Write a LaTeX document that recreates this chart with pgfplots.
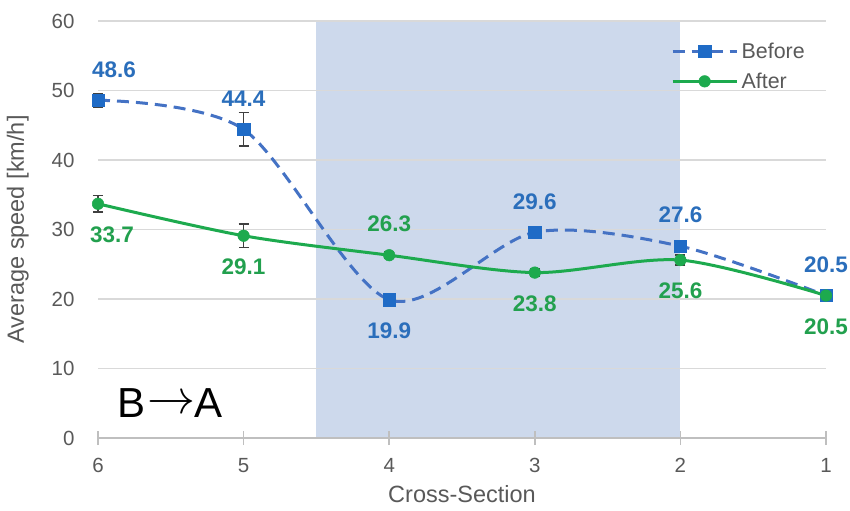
\documentclass[border=0pt]{standalone}
\usepackage{fontspec}
\setmainfont{Liberation Sans}
\usepackage{pgfplots}
\pgfplotsset{compat=1.18}
\usepackage{pgfplotstable}
\definecolor{bluemk}{HTML}{1F6BC6}
\definecolor{blueln}{HTML}{4472C4}
\definecolor{bluetx}{HTML}{2A6EBB}
\definecolor{greenln}{HTML}{1DAA4E}
\definecolor{greentx}{HTML}{22A04E}
\definecolor{bandblue}{HTML}{CDD9EC}
\definecolor{gridc}{HTML}{D9D9D9}
\definecolor{axc}{HTML}{BFBFBF}
\definecolor{txt}{HTML}{595959}
\definecolor{errc}{HTML}{404040}

\pgfplotstableread{
x y e
0 48.6 1.0
1 44.4 2.4
2 19.9 0.5
3 29.6 0.5
4 27.6 0.8
5 20.5 0.4
}\before
\pgfplotstableread{
x y e
0 33.7 1.2
1 29.1 1.7
2 26.3 0.5
3 23.8 0.5
4 25.6 0.7
5 20.5 0.3
}\after

\begin{document}
\begin{tikzpicture}
\begin{axis}[
  set layers,
  scale only axis,
  width=728bp, height=417bp,
  xmin=0, xmax=5, ymin=0, ymax=60,
  enlargelimits=false,
  clip=false,
  axis lines=left,
  x axis line style={axc, line width=2bp, -},
  y axis line style={draw=none},
  xtick={0,1,2,3,4,5},
  xticklabels={6,5,4,3,2,1},
  ytick={0,10,...,60},
  ymajorgrids,
  grid style={gridc, line width=1.5bp},
  tick align=center,
  major tick length=14bp,
  xtick style={axc, line width=1.5bp},
  ytick style={draw=none},
  /pgf/number format/assume math mode=true,
  tick label style={font=\fontsize{20.5bp}{24bp}\selectfont, text=txt},
  xticklabel style={yshift=-10bp},
  yticklabel style={xshift=-13bp},
  every axis y label/.style={at={(axis description cs:-0.11,0.5)}, rotate=90, anchor=center},
  every axis x label/.style={at={(axis description cs:0.5,0)}, anchor=center, yshift=-56bp},
  label style={font=\fontsize{23.5bp}{28bp}\selectfont, text=txt},
  xlabel={Cross-Section},
  ylabel={Average speed [km/h]},
  legend style={draw=none, fill=none, at={(0.787,0.948)}, anchor=north west,
    font=\fontsize{21.4bp}{25bp}\selectfont, text=txt, row sep=13bp, inner sep=0pt,
    nodes={inner xsep=3.5bp, inner ysep=0pt, outer sep=0pt}},
  legend cell align=left,
  legend image code/.code={\draw[mark repeat=2,mark phase=2] plot coordinates {(0bp,0bp) (32bp,0bp) (64bp,0bp)};},
  lbl/.style={draw=none, mark=none, forget plot, point meta=y,
    nodes near coords={\pgfmathprintnumber[fixed,fixed zerofill,precision=1]{\pgfplotspointmeta}},
    every node near coord/.append style={inner sep=0pt, outer sep=23bp,
      font=\fontsize{22.5bp}{26bp}\selectfont\bfseries, text=#1}},
]
\begin{pgfonlayer}{axis background}
\fill[bandblue] (axis cs:1.5,0) rectangle (axis cs:4,60);
\end{pgfonlayer}

\addplot[blueln, line width=3bp, dash pattern=on 12bp off 7bp, smooth,
  mark=square*, mark size=6.2bp,
  mark options={solid, fill=bluemk, draw=bluemk, line width=0.5bp},
  error bars/.cd, y dir=both, y explicit,
  error bar style={errc, line width=1.5bp, solid},
  error mark options={rotate=90, errc, line width=1.5bp, mark size=5bp, solid}]
  table[x=x, y=y, y error=e]{\before};
\addlegendentry{Before}

\addplot[greenln, line width=3bp, smooth,
  mark=*, mark size=5.8bp,
  mark options={solid, fill=greenln, draw=greenln, line width=0.5bp},
  error bars/.cd, y dir=both, y explicit,
  error bar style={errc, line width=1.5bp, solid},
  error mark options={rotate=90, errc, line width=1.5bp, mark size=5bp, solid}]
  table[x=x, y=y, y error=e]{\after};
\addlegendentry{After}

% data labels
\addplot[lbl=bluetx, every node near coord/.append style={anchor=south, xshift=16bp}]
  coordinates {(0,48.6)};
\addplot[lbl=bluetx, every node near coord/.append style={anchor=south}]
  coordinates {(1,44.4) (3,29.6) (4,27.6) (5,20.5)};
\addplot[lbl=bluetx, every node near coord/.append style={anchor=north}]
  coordinates {(2,19.9)};
\addplot[lbl=greentx, every node near coord/.append style={anchor=south}]
  coordinates {(2,26.3)};
\addplot[lbl=greentx, every node near coord/.append style={anchor=north, xshift=14bp}]
  coordinates {(0,33.7)};
\addplot[lbl=greentx, every node near coord/.append style={anchor=north}]
  coordinates {(1,29.1) (3,23.8) (4,25.6) (5,20.5)};

\node[anchor=base west, inner sep=0pt, font=\fontsize{42bp}{48bp}\selectfont, text=black] at (axis cs:0.13,3.0) {B\kern2bp\raisebox{3.5bp}{\resizebox{48bp}{!}{$\rightarrow$}}\kern-1bp A};
\end{axis}
\pgfresetboundingbox
\path (-98bp,-73bp) rectangle (752bp,438bp);
\end{tikzpicture}
\end{document}
